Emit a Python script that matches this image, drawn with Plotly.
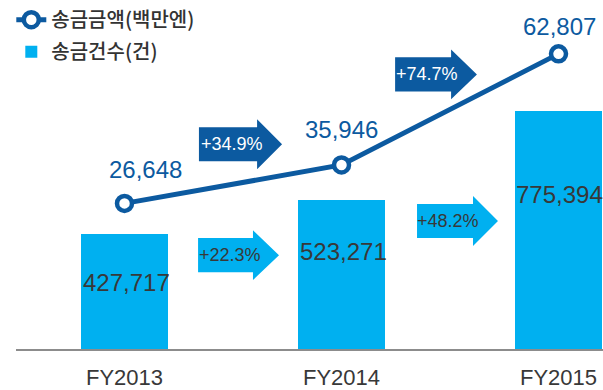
import plotly.graph_objects as go

# Fiscal years and remittance figures
years = ["FY2013", "FY2014", "FY2015"]
amount_mil_yen = [26648, 35946, 62807]      # 송금금액(백만엔)
transfer_count = [427717, 523271, 775394]   # 송금건수(건)

LINE_BLUE = "#0c5aa0"
BAR_BLUE = "#00b0f0"
TEXT_DARK = "#383838"
NUM_FONT = "Liberation Sans"
KR_FONT = "Noto Sans CJK KR"

PLOT_H = 352  # plot area height in px (390 - bottom margin)

fig = go.Figure()

fig.add_trace(go.Scatter(
    x=years, y=amount_mil_yen, name="송금금액(백만엔)",
    mode="lines+markers", yaxis="y2", legendgroup="amount",
    line=dict(color=LINE_BLUE, width=5),
    marker=dict(size=15, color="white", line=dict(color=LINE_BLUE, width=4.5)),
))
fig.add_trace(go.Bar(
    x=years, y=transfer_count, name="송금건수(건)", legendgroup="count",
    marker=dict(color=BAR_BLUE, line=dict(width=0)), width=0.4,
))

annotations = []

# value labels above the line markers
line_shift = [(21, 34), (0, 35), (1, 27)]
for i, v in enumerate(amount_mil_yen):
    dx, dy = line_shift[i]
    annotations.append(dict(
        x=i, y=v, xref="x", yref="y2", text=f"{v:,}", showarrow=False,
        xshift=dx, yshift=dy, xanchor="center", yanchor="middle",
        font=dict(family=NUM_FONT, size=24, color=LINE_BLUE),
    ))

# value labels inside the bars
bar_shift = [(2, -49), (2, -52), (1, -84)]
for i, v in enumerate(transfer_count):
    dx, dy = bar_shift[i]
    annotations.append(dict(
        x=i, y=v, xref="x", yref="y", text=f"{v:,}", showarrow=False,
        xshift=dx, yshift=dy, xanchor="center", yanchor="middle",
        font=dict(family=NUM_FONT, size=24, color=TEXT_DARK),
    ))


def paper_y(px):
    return (PLOT_H - px) / PLOT_H


def arrow_path(x_left, x_head, x_tip, yc, body_half=17.5, head_half=25.5):
    yb0, yb1 = paper_y(yc - body_half), paper_y(yc + body_half)
    yh0, yh1 = paper_y(yc - head_half), paper_y(yc + head_half)
    ym = paper_y(yc)
    return (f"M{x_left},{yb0} L{x_head},{yb0} L{x_head},{yh0} L{x_tip},{ym} "
            f"L{x_head},{yh1} L{x_head},{yb1} L{x_left},{yb1} Z")


def growth(series, i):
    return f"+{(series[i + 1] / series[i] - 1) * 100:.1f}%"


# growth arrows: (x_left, x_head, x_tip, y-centre px, fill, text x, text colour, label)
arrows = [
    (0.343, 0.611, 0.726, 142.5, LINE_BLUE, 0.495, "white", growth(amount_mil_yen, 0)),
    (0.339, 0.592, 0.712, 256.0, BAR_BLUE, 0.486, TEXT_DARK, growth(transfer_count, 0)),
    (1.247, 1.505, 1.624, 71.0, LINE_BLUE, 1.394, "white", growth(amount_mil_yen, 1)),
    (1.348, 1.606, 1.721, 221.0, BAR_BLUE, 1.491, TEXT_DARK, growth(transfer_count, 1)),
]
shapes = []
for xl, xh, xt, yc, fill, tx, tcol, label in arrows:
    shapes.append(dict(
        type="path", xref="x", yref="paper", path=arrow_path(xl, xh, xt, yc),
        fillcolor=fill, line=dict(width=0), layer="above",
    ))
    annotations.append(dict(
        x=tx, y=paper_y(yc), xref="x", yref="paper", text=label, showarrow=False,
        xanchor="center", yanchor="middle",
        font=dict(family=NUM_FONT, size=18, color=tcol),
    ))

fig.update_layout(
    width=603, height=390,
    margin=dict(l=16, r=0, t=0, b=38),
    paper_bgcolor="white", plot_bgcolor="white",
    showlegend=True,
    legend=dict(
        x=-0.008, y=1.014, xanchor="left", yanchor="top",
        font=dict(family=KR_FONT, size=20, color="#333333", weight=500),
        bgcolor="rgba(0,0,0,0)", traceorder="grouped", tracegroupgap=3,
        itemwidth=30,
    ),
    xaxis=dict(
        type="category", range=[-0.5, 2.205],
        showline=True, linecolor="#8c8c8c", linewidth=2,
        showgrid=False, zeroline=False, ticks="", ticklabelstandoff=8,
        tickfont=dict(family=NUM_FONT, size=22, color=TEXT_DARK),
    ),
    yaxis=dict(range=[102110, 1073412], visible=False, fixedrange=True),
    yaxis2=dict(range=[-8568, 74627], overlaying="y", visible=False),
    shapes=shapes,
    annotations=annotations,
    bargap=0,
)

fig.write_html("out.html")
